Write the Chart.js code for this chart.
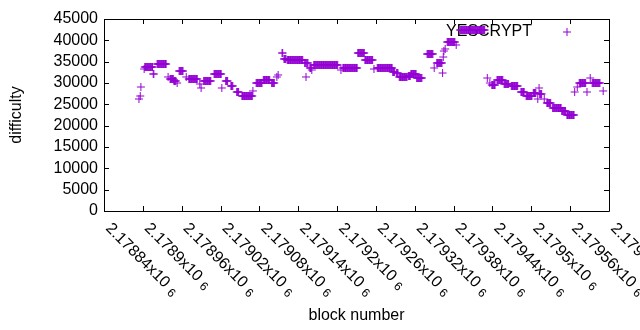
<!DOCTYPE html>
<html>
<head>
<meta charset="utf-8">
<script src="https://cdn.jsdelivr.net/npm/chart.js@4/dist/chart.umd.min.js"></script>
<style>
  html, body { margin: 0; padding: 0; background: #fff; }
  canvas { display: block; }
</style>
</head>
<body>
<canvas id="chart" width="640" height="330"></canvas>
<script>
// runs of blocks sharing the same difficulty
const runStart = [
  2178894, 2178896, 2178897, 2178902, 2178903, 2178916, 2178922, 2178939, 2178942, 2178948,
  2178953, 2178956, 2178967, 2178971, 2178988, 2178990, 2178994, 2179010, 2179022, 2179028,
  2179036, 2179045, 2179053, 2179070, 2179075, 2179086, 2179099, 2179107, 2179109, 2179115,
  2179118, 2179123, 2179150, 2179152, 2179153, 2179158, 2179161, 2179164, 2179206, 2179209,
  2179232, 2179243, 2179257, 2179262, 2179286, 2179292, 2179296, 2179310, 2179314, 2179323,
  2179339, 2179350, 2179354, 2179363, 2179364, 2179365, 2179367, 2179370, 2179384, 2179390,
  2179432, 2179436, 2179439, 2179447, 2179458, 2179469, 2179484, 2179492, 2179503, 2179510,
  2179512, 2179513, 2179520, 2179524, 2179533, 2179547, 2179555, 2179567, 2179571, 2179574,
  2179586, 2179591, 2179594, 2179611
];
const runEnd = [
  2178894, 2178896, 2178897, 2178902, 2178915, 2178917, 2178936, 2178939, 2178947, 2178951,
  2178953, 2178962, 2178967, 2178984, 2178988, 2178990, 2179005, 2179021, 2179022, 2179031,
  2179039, 2179048, 2179069, 2179070, 2179084, 2179096, 2179103, 2179107, 2179109, 2179116,
  2179121, 2179147, 2179151, 2179152, 2179155, 2179160, 2179161, 2179201, 2179206, 2179231,
  2179242, 2179255, 2179257, 2179285, 2179289, 2179294, 2179308, 2179313, 2179322, 2179331,
  2179348, 2179350, 2179362, 2179363, 2179364, 2179365, 2179367, 2179382, 2179384, 2179428,
  2179432, 2179436, 2179444, 2179456, 2179465, 2179479, 2179489, 2179501, 2179507, 2179510,
  2179512, 2179516, 2179520, 2179530, 2179546, 2179553, 2179566, 2179567, 2179571, 2179584,
  2179586, 2179591, 2179606, 2179611
];
const runValue = [
  26250, 26950, 29060, 33280, 33750, 32110, 34450, 31410, 30940, 30470,
  30000, 32810, 31410, 30940, 29770, 28830, 30470, 32110, 28830, 30470,
  29300, 27890, 26950, 28130, 30000, 30700, 30000, 31410, 31880, 37030,
  35630, 35390, 34690, 31410, 34690, 33520, 33050, 34220, 33050, 33520,
  37030, 35390, 33280, 33520, 32580, 32340, 31410, 31640, 32110, 31170,
  36800, 33520, 34690, 32340, 36090, 37500, 37970, 39610, 38910, 42420,
  31170, 30000, 29530, 30700, 29770, 29300, 27890, 26950, 27660, 26250,
  28830, 27420, 26250, 25310, 24140, 23440, 22500, 27890, 29060, 30000,
  27890, 31170, 30000, 28130
];

const xTickValues = [
  2178840, 2178900, 2178960, 2179020, 2179080, 2179140, 2179200,
  2179260, 2179320, 2179380, 2179440, 2179500, 2179560, 2179620
];
const xTickLabels = [
  '2.17884', '2.1789', '2.17896', '2.17902', '2.17908', '2.17914', '2.1792',
  '2.17926', '2.17932', '2.17938', '2.17944', '2.1795', '2.17956', '2.17962'
];
const yTickValues = [0, 5000, 10000, 15000, 20000, 25000, 30000, 35000, 40000, 45000];

const seriesName = 'YESCRYPT';
const violet = '#9400d3';
const FONT = '"Liberation Sans", Arial, sans-serif';

const points = [];
runStart.forEach((s, i) => {
  for (let b = s; b <= runEnd[i]; b++) {
    points.push({ x: b, y: runValue[i] });
  }
});

// gnuplot look: box border, inward ticks on all sides, rotated x labels, key inside
const gnuplotFrame = {
  id: 'gnuplotFrame',
  beforeDatasetsDraw(chart) {
    const { ctx, chartArea } = chart;
    ctx.save();
    ctx.font = '16px ' + FONT;
    ctx.fillStyle = '#000';
    ctx.textAlign = 'right';
    ctx.textBaseline = 'middle';
    ctx.fillText(seriesName, chartArea.right - 77, chartArea.top + 13);
    ctx.restore();
  },
  afterDraw(chart) {
    const { ctx, chartArea } = chart;
    const { left, right, top, bottom } = chartArea;
    const xs = chart.scales.x;
    const ys = chart.scales.y;
    const tic = 5;

    ctx.save();
    ctx.strokeStyle = '#000';
    ctx.lineWidth = 1;
    ctx.beginPath();
    ctx.rect(left + 0.5, top + 0.5, right - left, bottom - top);
    yTickValues.forEach(v => {
      const y = Math.round(ys.getPixelForValue(v)) + 0.5;
      ctx.moveTo(left, y); ctx.lineTo(left + tic, y);
      ctx.moveTo(right, y); ctx.lineTo(right - tic, y);
    });
    xTickValues.forEach(v => {
      const x = Math.round(xs.getPixelForValue(v)) + 0.5;
      ctx.moveTo(x, bottom); ctx.lineTo(x, bottom - tic);
      ctx.moveTo(x, top); ctx.lineTo(x, top + tic);
    });
    ctx.stroke();

    // key sample
    const kx = right - 42, ky = top + 13;
    ctx.strokeStyle = violet;
    ctx.beginPath();
    ctx.moveTo(kx - 4, ky); ctx.lineTo(kx + 4, ky);
    ctx.moveTo(kx, ky - 4); ctx.lineTo(kx, ky + 4);
    ctx.stroke();

    // x tick labels, rotated 45 degrees, "x10^6"
    ctx.fillStyle = '#000';
    ctx.textAlign = 'left';
    ctx.textBaseline = 'middle';
    xTickValues.forEach((v, i) => {
      const x = xs.getPixelForValue(v);
      ctx.save();
      ctx.translate(x + 4, bottom + 15);
      ctx.rotate(Math.PI / 4);
      ctx.font = '16px ' + FONT;
      const txt = xTickLabels[i] + 'x10';
      ctx.fillText(txt, 0, 0);
      const w = ctx.measureText(txt).width;
      ctx.font = '12px ' + FONT;
      ctx.fillText('6', w + 5, 3);
      ctx.restore();
    });
    ctx.restore();
  }
};

new Chart(document.getElementById('chart'), {
  type: 'scatter',
  data: {
    datasets: [{
      label: seriesName,
      data: points,
      pointStyle: 'cross',
      pointRadius: 4,
      pointHoverRadius: 4,
      pointBorderColor: violet,
      pointBackgroundColor: violet,
      pointBorderWidth: 1
    }]
  },
  options: {
    responsive: false,
    animation: false,
    events: [],
    layout: {
      autoPadding: false,
      padding: { top: 19, right: 31, left: 0, bottom: 0 }
    },
    plugins: {
      legend: { display: false },
      tooltip: { enabled: false }
    },
    scales: {
      x: {
        type: 'linear',
        min: 2178840,
        max: 2179620,
        grid: { display: false },
        border: { display: false },
        ticks: { display: false, stepSize: 60 },
        title: {
          display: true,
          text: 'block number',
          color: '#000',
          font: { family: FONT, size: 16 },
          padding: { top: 0, bottom: 5 }
        },
        afterFit(scale) { scale.height = 119; }
      },
      y: {
        min: 0,
        max: 45000,
        grid: { display: false, drawTicks: false },
        border: { display: false },
        afterBuildTicks(scale) {
          scale.ticks = yTickValues.map(v => ({ value: v }));
        },
        ticks: {
          autoSkip: false,
          padding: 6,
          color: '#000',
          font: { family: FONT, size: 16 },
          callback: v => String(v)
        },
        title: {
          display: true,
          text: 'difficulty',
          color: '#000',
          font: { family: FONT, size: 16 },
          padding: { top: 7, bottom: 0 }
        },
        afterFit(scale) { scale.width = 104; }
      }
    }
  },
  plugins: [gnuplotFrame]
});
</script>
</body>
</html>
